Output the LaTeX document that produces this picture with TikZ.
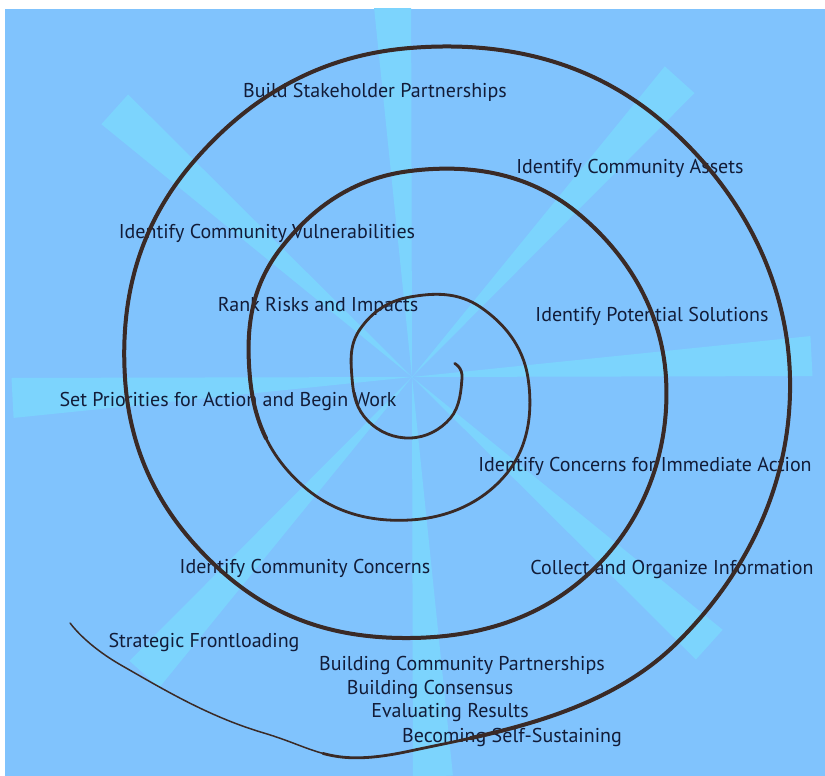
\documentclass[tikz,border=0pt]{standalone}
\usepackage{fontspec}
\setmainfont{PT Sans}
\usepackage{tikz}

\definecolor{skyback}{RGB}{128,195,253}
\definecolor{raycyan}{RGB}{124,212,253}
\definecolor{coilbrown}{RGB}{58,42,38}
\definecolor{stagenavy}{RGB}{18,28,56}

\newcommand{\coilpoints}{(-18:47) (0:52) (45:57) (90:60) (135:60) (180:58) (225:70) (270:81)
    (315:100) (360:118) (405:136) (450:142) (495:152) (540:160) (585:183)
    (630:207) (675:235) (720:256) (765:265) (810:260) (855:270) (900:285)
    (945:306) (990:330) (1035:360) (1080:380) (1125:376) (1170:373)
    (1192.5:384) (1215:407) (1224.2:419)}

\begin{document}
\begin{tikzpicture}[x=1pt,y=-1pt,
    ray/.style={fill=raycyan},
    coil/.style={draw=coilbrown,line cap=round,line join=round},
    stage/.style={text=stagenavy,inner sep=0pt,anchor=base,font=\fontsize{20}{22}\selectfont}]
    \useasboundingbox (0,0) rectangle (825,776);
    \fill[skyback] (5,9) rectangle (825,776);

    % light beams out of the centre
    \begin{scope}
        \clip (5,9) rectangle (825,776);
        \foreach \a in {-93,-48,-3,42,87,132,177,222}
            \fill[ray,shift={(412,377)},rotate=-\a] (0,0) -- (400,-20) -- (400,20) -- cycle;
    \end{scope}

    % stages along the spiral
    \node[stage] (build)    at (375,98)  {Build Stakeholder Partnerships};
    \node[stage] (assets)   at (630,173) {Identify Community Assets};
    \node[stage] (vulner)   at (267,238) {Identify Community Vulnerabilities};
    \node[stage] (rank)     at (318,311) {Rank Risks and Impacts};
    \node[stage] (solution) at (652,321) {Identify Potential Solutions};
    \node[stage] (priority) at (228,406) {Set Priorities for Action and Begin Work};
    \node[stage] (immed)    at (645,471) {Identify Concerns for Immediate Action};
    \node[stage] (concern)  at (305,573) {Identify Community Concerns};
    \node[stage] (collect)  at (672,574) {Collect and Organize Information};
    \node[stage] (front)    at (204,647) {Strategic Frontloading};
    \node[stage] (partner)  at (462,670) {Building Community Partnerships};
    \node[stage] (consens)  at (430,694) {Building Consensus};
    \node[stage] (evaluate) at (450,717) {Evaluating Results};
    \node[stage] (sustain)  at (512,742) {Becoming Self-Sustaining};

    % the spiral, angle:radius around its centre, thicker further out
    \begin{scope}[shift={(410,378)}]
        \draw[coil,line width=1.5pt] plot[smooth,tension=0.7] coordinates {\coilpoints};
        \draw[coil,line width=2.8pt,dash pattern=on 4150pt off 6000pt]
            plot[smooth,tension=0.7] coordinates {\coilpoints};
        \draw[coil,line width=4pt,dash pattern=on 3140pt off 860pt,dash phase=3140pt]
            plot[smooth,tension=0.7] coordinates {\coilpoints};
    \end{scope}
\end{tikzpicture}
\end{document}
